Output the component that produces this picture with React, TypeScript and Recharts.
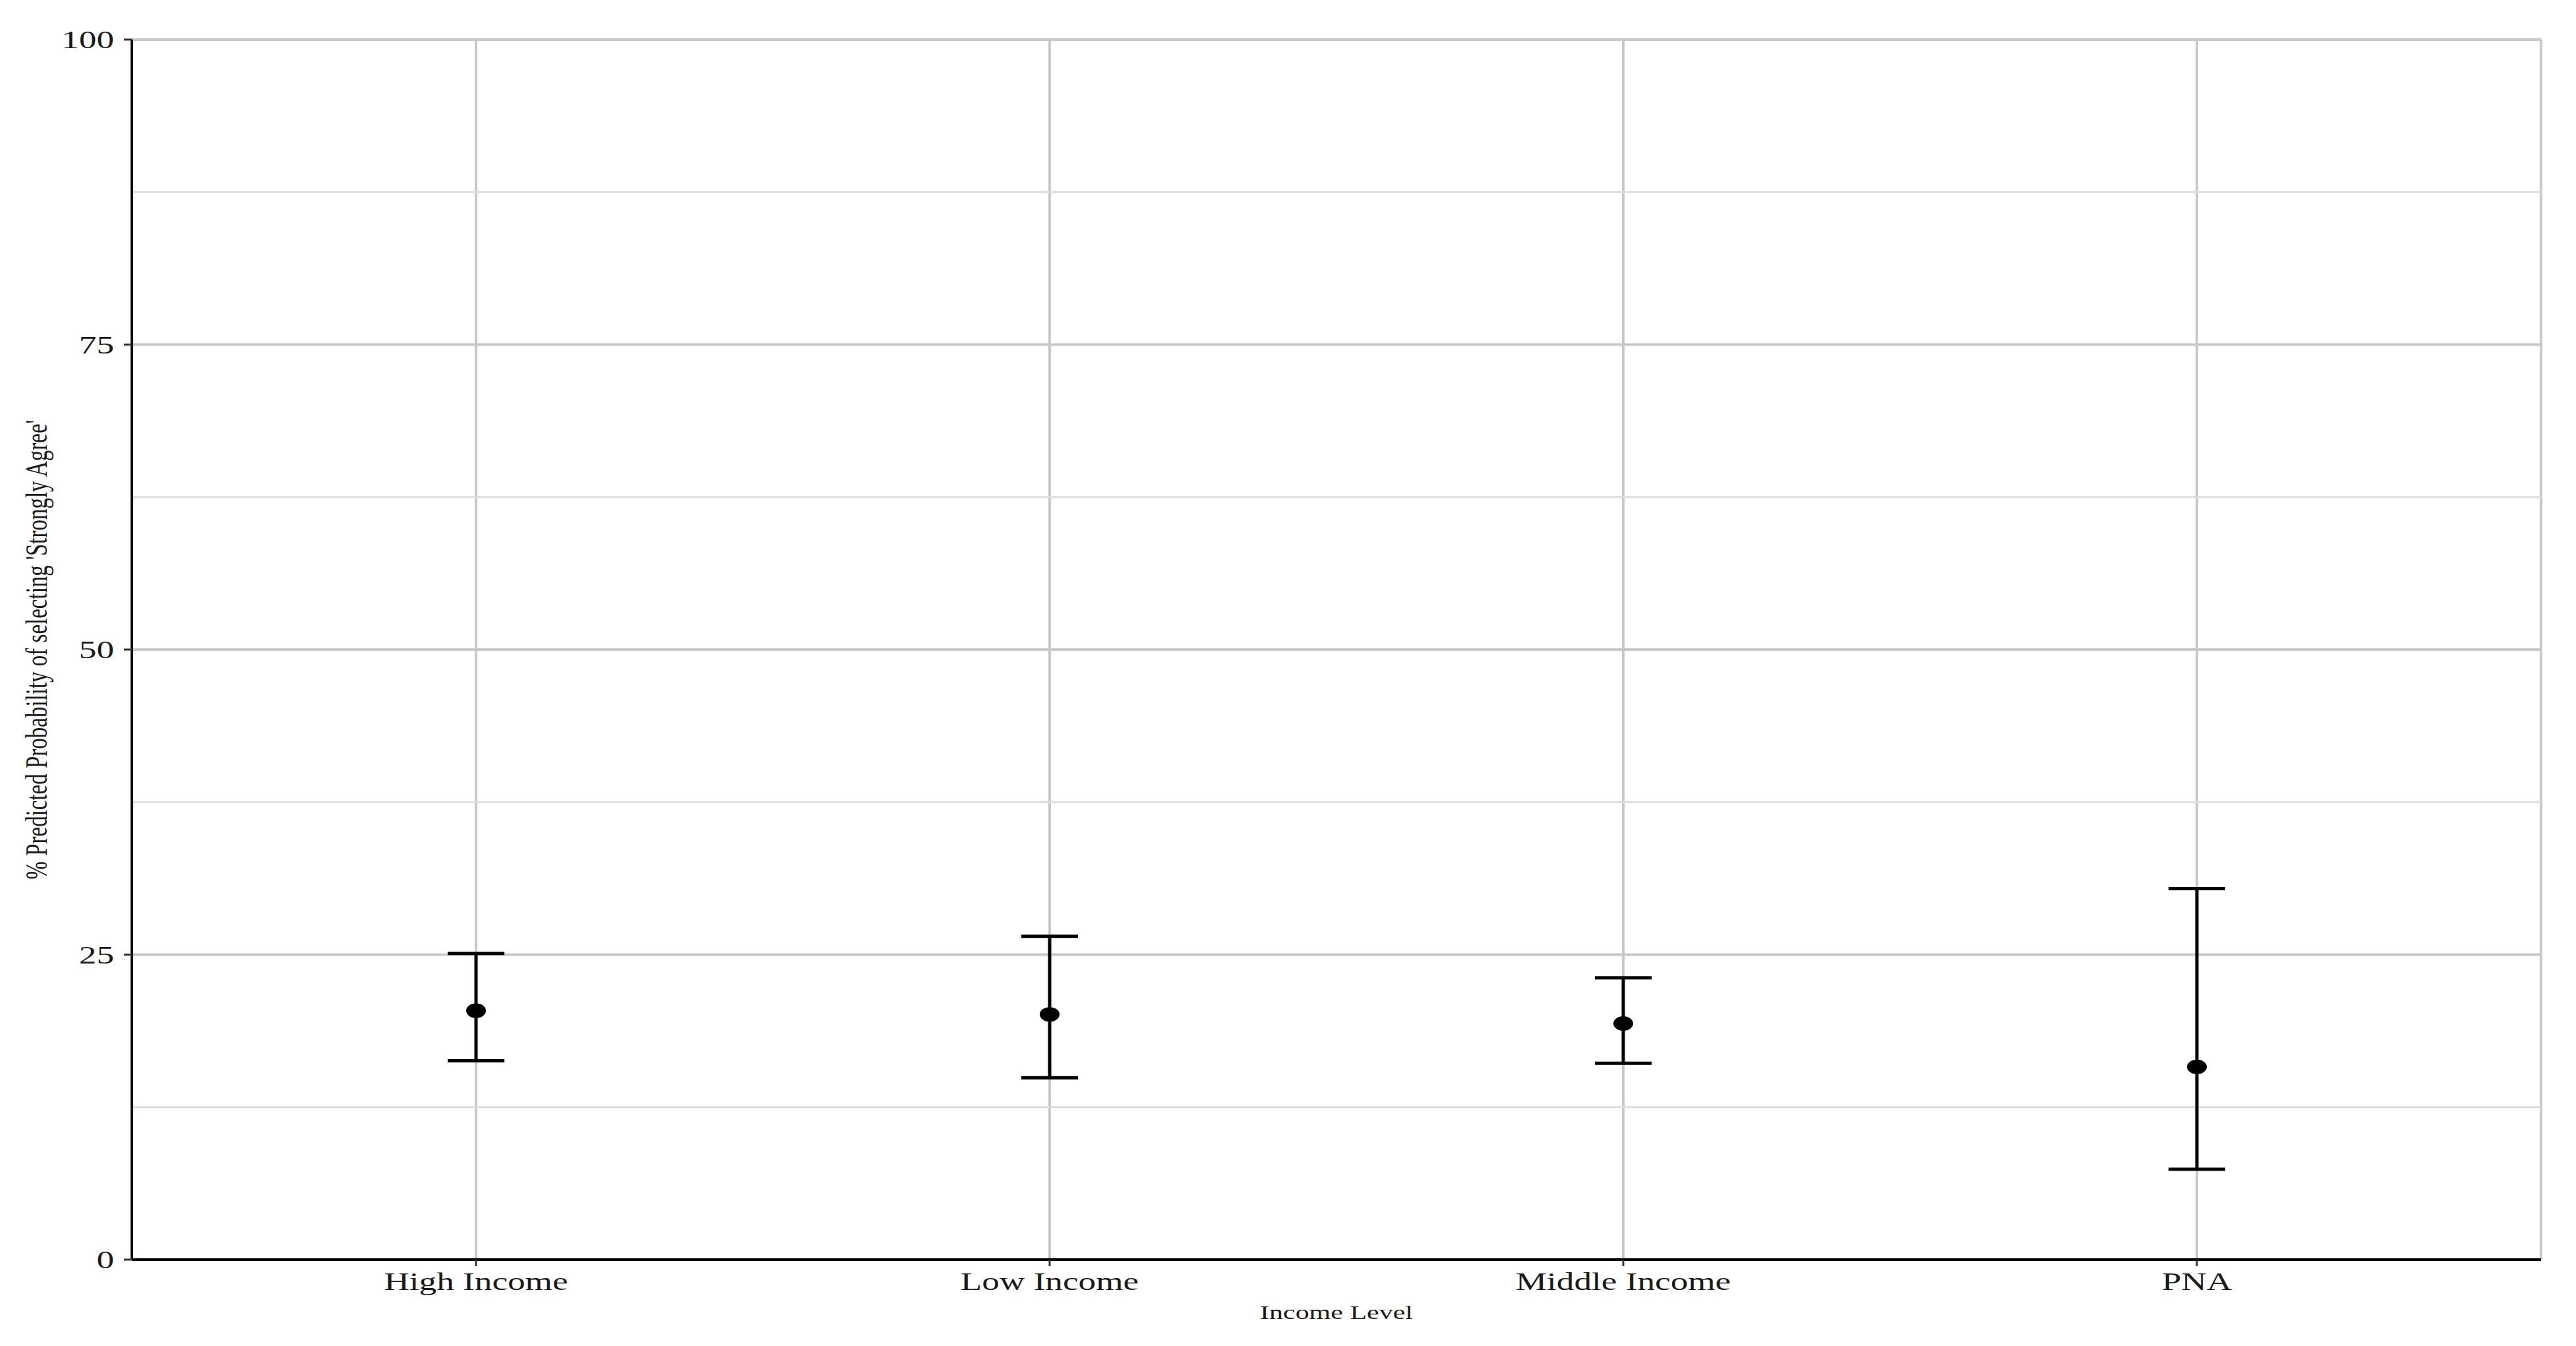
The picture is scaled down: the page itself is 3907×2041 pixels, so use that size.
import React from "react";
import {
  ComposedChart,
  Line,
  ErrorBar,
  XAxis,
  YAxis,
  CartesianGrid,
  ReferenceLine,
} from "recharts";

// Predicted probabilities (%) with confidence intervals
const categories = ["High Income", "Low Income", "Middle Income", "PNA"];
const estimates = [20.4, 20.1, 19.35, 15.8];
const lowerCI = [16.3, 14.9, 16.1, 7.4];
const upperCI = [25.1, 26.5, 23.1, 30.4];

const yTicks = [0, 25, 50, 75, 100];
const minorTicks = [12.5, 37.5, 62.5, 87.5];
const xTicks = [1, 2, 3, 4];

const data = categories.map((name, i) => ({
  idx: i + 1,
  name,
  est: estimates[i],
  err: [estimates[i] - lowerCI[i], upperCI[i] - estimates[i]],
}));

const FONT = "'Liberation Serif', 'Times New Roman', serif";
const STRETCH = 1.4; // the source image is stretched horizontally

const XTick = (props: any) => {
  const { x, y, payload } = props;
  return (
    <g transform={`translate(${x},${y})`}>
      <text
        transform={`scale(${STRETCH},1)`}
        textAnchor="middle"
        dy="0.71em"
        fontFamily={FONT}
        fontSize={38}
        fill="#1a1a1a"
      >
        {categories[payload.value - 1]}
      </text>
    </g>
  );
};

const YTick = (props: any) => {
  const { x, y, payload } = props;
  return (
    <g transform={`translate(${x},${y})`}>
      <text
        transform={`scale(${STRETCH},1)`}
        textAnchor="end"
        dy="0.35em"
        fontFamily={FONT}
        fontSize={38}
        fill="#1a1a1a"
      >
        {payload.value}
      </text>
    </g>
  );
};

const Dot = (props: any) => {
  const { cx, cy } = props;
  if (cx == null || cy == null) return null;
  return <ellipse cx={cx} cy={cy} rx={15} ry={11} fill="#000" />;
};

export default function App() {
  return (
    <div style={{ position: "absolute", left: 0, top: 0, background: "#fff" }}>
      <ComposedChart
        width={3907}
        height={2041}
        data={data}
        margin={{ top: 60, right: 53, bottom: 51, left: 0 }}
      >
        <CartesianGrid stroke="#c8c8c8" strokeWidth={4} />
        {minorTicks.map((v) => (
          <ReferenceLine key={v} y={v} stroke="#dcdcdc" strokeWidth={3} />
        ))}
        <XAxis
          type="number"
          dataKey="idx"
          domain={[0.4, 4.6]}
          ticks={xTicks}
          interval={0}
          height={80}
          tick={<XTick />}
          tickSize={10}
          tickMargin={9}
          axisLine={{ stroke: "#000", strokeWidth: 4 }}
          tickLine={{ stroke: "#333", strokeWidth: 3 }}
          label={{
            content: () => (
              <text
                transform={`translate(2027,2000) scale(${STRETCH},1)`}
                textAnchor="middle"
                fontFamily={FONT}
                fontSize={30}
                fill="#1a1a1a"
              >
                Income Level
              </text>
            ),
          }}
        />
        <YAxis
          type="number"
          domain={[0, 100]}
          ticks={yTicks}
          width={200}
          tick={<YTick />}
          tickSize={12}
          tickMargin={15}
          axisLine={{ stroke: "#000", strokeWidth: 4 }}
          tickLine={{ stroke: "#333", strokeWidth: 3 }}
          label={{
            content: () => (
              <text
                transform={`translate(71,985) rotate(-90) scale(1,${STRETCH})`}
                textAnchor="middle"
                fontFamily={FONT}
                fontSize={33}
                fill="#1a1a1a"
              >
                % Predicted Probability of selecting 'Strongly Agree'
              </text>
            ),
          }}
        />
        <Line
          dataKey="est"
          stroke="none"
          dot={<Dot />}
          activeDot={false}
          isAnimationActive={false}
        >
          <ErrorBar
            dataKey="err"
            direction="y"
            width={43}
            stroke="#000"
            strokeWidth={5}
            isAnimationActive={false}
          />
        </Line>
      </ComposedChart>
    </div>
  );
}
